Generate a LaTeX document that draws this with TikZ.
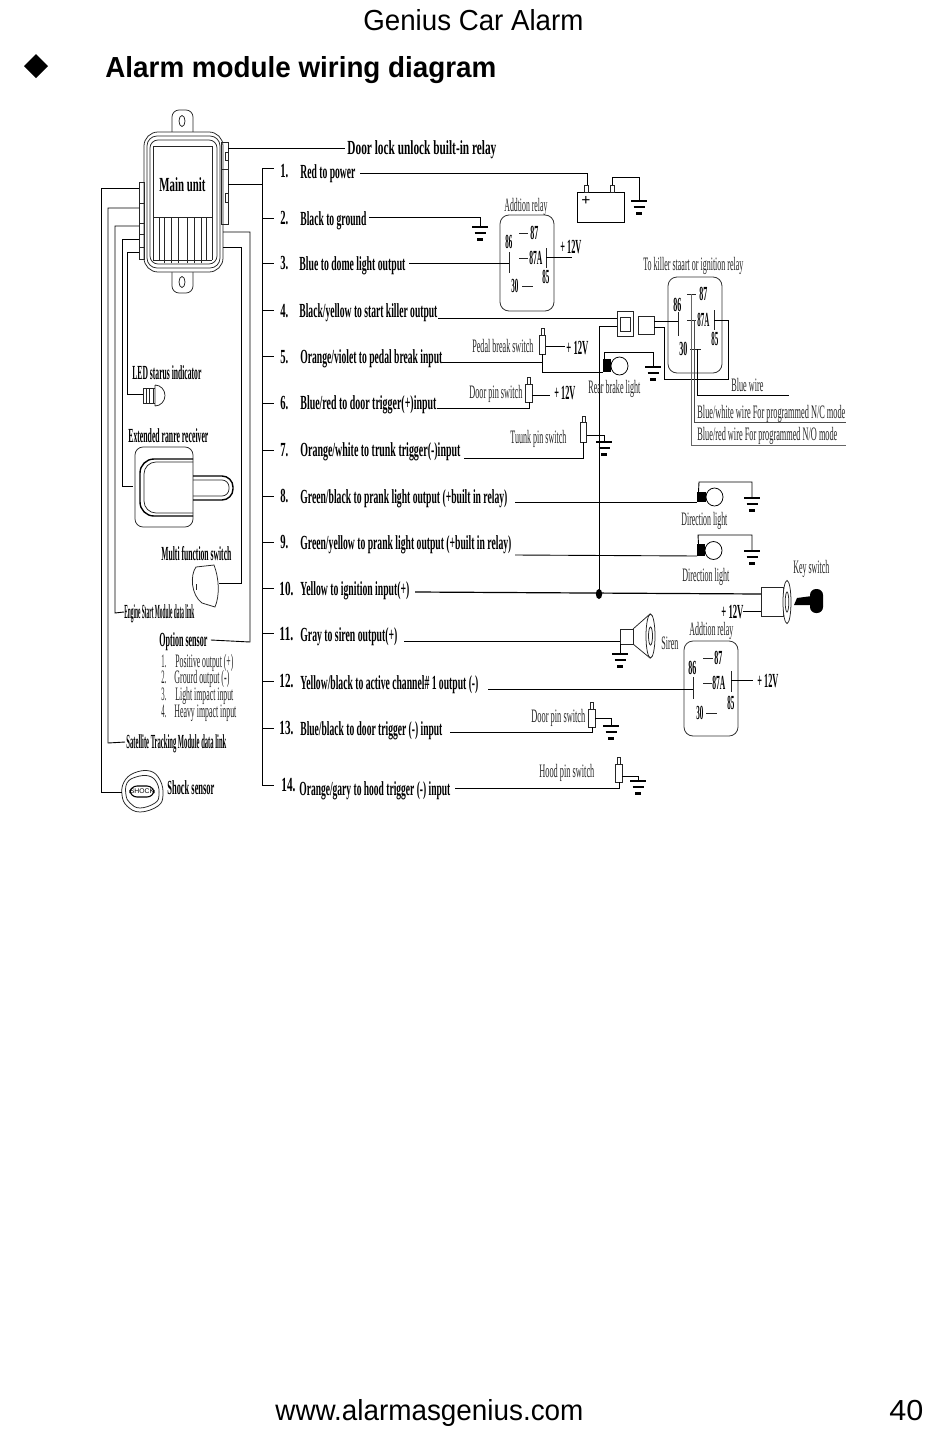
\documentclass[tikz,border=0pt]{standalone}
\usepackage{graphicx}
\usepackage{fontspec}
\setmainfont{Liberation Serif}
\newfontfamily\arialf{Liberation Sans}
\usetikzlibrary{calc}
\tikzset{
  wire/.style={line width=0.45pt,black,line join=miter},
  part/.style={line width=0.38pt,black!85},
  gbar/.style={line width=1.1pt,black},
  lab/.style={inner sep=0pt,anchor=west,text height=6.4pt,text depth=0pt,font=\fontsize{10}{11}\selectfont},
  blab/.style={lab,font=\fontsize{10}{11}\selectfont\bfseries},
  slab/.style={lab,font=\fontsize{9.5}{11}\selectfont,text=black!85},
  head/.style={lab,text height=10pt,font=\arialf\fontsize{14.5}{16}\selectfont},
  bhead/.style={head,font=\arialf\fontsize{14.5}{16}\selectfont\bfseries},
  relaybox/.style={line width=0.4pt,rounded corners=4.5pt,black!80}
}
% text node fitted to a given horizontal span
\newcommand\Tx[6][lab]{%
  \pgfmathsetlengthmacro\txw{(#4-#3)*0.5}%
  \node[#1] (#2) at (#3,#5) {\resizebox{\txw}{\height}{#6}};}
% ground: three bars from the top y
\newcommand\Gnd[3]{%
  \coordinate (#1) at (#2,#3);
  \draw[gbar] ($(#1)+(-8,0)$) -- ($(#1)+(8,0)$);
  \draw[gbar] ($(#1)+(-5.5,6)$) -- ($(#1)+(5.5,6)$);
  \draw[gbar] ($(#1)+(-3,12.5)$) -- ($(#1)+(3,12.5)$);}
% pin switch: name, x centre, pin top, body top, body bottom, side wire y
\newcommand\Sw[6]{%
  \draw[part] (#2-1.6,#3) rectangle (#2+1.6,#4);
  \draw[part,fill=white] (#2-3.2,#4) rectangle (#2+3.2,#5);
  \coordinate (#1-b) at (#2,#5);
  \coordinate (#1-r) at (#2+3.2,#6);}
% bulb: name, xl, xm, xr, square top, square bottom, cy, ry
\newcommand\Bulb[8]{%
  \draw[part,black] (#4/2+#3/2,#7) ellipse [x radius={(#4-#3)/2},y radius=#8];
  \fill (#2,#5) rectangle (#3,#6);
  \coordinate (#1-w) at (#2,#6);
  \coordinate (#1-t) at (#2+1.5,#5);}
\begin{document}
\begin{tikzpicture}[x=0.5pt,y=-0.5pt]
\useasboundingbox (0,0) rectangle (950,1456);
\fill[white] (0,0) rectangle (950,1456);
% page furniture
\Tx[head]{title}{363}{583}{21}{Genius Car Alarm}
\fill (24,66) -- (36,54) -- (48,66) -- (36,78) -- cycle;
\Tx[bhead]{sect}{105}{496}{67}{Alarm module wiring diagram}
\Tx[head]{web}{275}{583}{1410}{www.alarmasgenius.com}
\Tx[head]{page}{889}{923}{1410}{40}

% ---------- main unit
\draw[part,rounded corners=3.5pt] (172,132) -- (172,110) -- (193,110) -- (193,132);
\draw[part] (182,121) ellipse [x radius=3,y radius=5.5];
\draw[part,rounded corners=3.5pt] (172,272) -- (172,293) -- (193,293) -- (193,272);
\draw[part] (182,282) ellipse [x radius=3,y radius=5.5];
\draw[part,fill=white,rounded corners=7pt] (144,132) rectangle (223,272);
\draw[part,rounded corners=5pt] (147,136) rectangle (220,268);
\draw[part,rounded corners=4pt] (150,140) rectangle (217,264);
\draw[part] (153,146) rectangle (212,217);
\draw[part] (153,217) -- (153,260) (159,217) -- (159,260)
 (164,217) -- (164,263) (171,217) -- (171,263)
 (178,217) -- (178,263) (187,217) -- (187,263)
 (194,217) -- (194,263) (201,217) -- (201,263)
 (206,217) -- (206,260) (212,217) -- (212,260)
 (153,260) -- (212,260);
\draw[part] (221,142) rectangle (228,224) (221,169) -- (228,169);
\draw[part] (225,152) rectangle (228,160) (225,193) rectangle (228,202);
\draw[part] (139,182) rectangle (144,259);
\draw[part] (139,203) -- (144,203) (139,223) -- (144,223) (139,234) -- (144,234) (139,247) -- (144,247);
\coordinate (mr1) at (228,148); \coordinate (mr2) at (228,184);
\coordinate (mb1) at (223,232); \coordinate (mb2) at (223,247);
\coordinate (ml1) at (139,188); \coordinate (ml2) at (139,208); \coordinate (ml3) at (139,226);
\coordinate (ml4) at (139,239); \coordinate (ml5) at (139,252);
\Tx[blab]{mainunit}{159}{205}{185}{Main unit}

% ---------- left-hand devices
\Tx[blab]{doorlock}{347}{496}{148}{Door lock unlock built-in relay}
\draw[wire] (mr1) -- ([xshift=-1pt]doorlock.west);
\Tx[blab]{ledl}{132}{201}{373}{LED starus indicator}
\draw[part] (143,388) rectangle (153,403);
\draw[part] (146,388) -- (146,403) (149,388) -- (149,403);
\draw[part] (155,385) -- (155,406) (155,385) arc [start angle=-90,end angle=90,x radius=10,y radius=10.5];
\draw[part] (153,388) -- (155,388) (153,403) -- (155,403);
\coordinate (led) at (143,394);
\Tx[blab]{extl}{128}{208}{436}{Extended ranre receiver}
\draw[part,rounded corners=4pt] (135,447) rectangle (193,527);
\draw[line width=0.7pt,rounded corners=7pt] (193,459) -- (140,459) -- (140,516) -- (193,516);
\draw[part,rounded corners=6pt] (193,462) -- (144,462) -- (144,513) -- (193,513);
\draw[line width=0.7pt,rounded corners=5.5pt] (193,476) -- (233,476) -- (233,500) -- (193,500);
\draw[part,rounded corners=3.5pt] (193,480) -- (229,480) -- (229,496) -- (193,496);
\coordinate (recv) at (133,486);
\Tx[blab]{multil}{161}{231}{554}{Multi function switch}
\draw[part] (196,567) -- (214,565) .. controls (219,578) and (220,595) .. (215,607) -- (202,603) .. controls (191,595) and (190,575) .. (196,567) -- cycle;
\draw[part] (196.5,584) -- (196.5,590);
\coordinate (multi) at (219,583);
\Tx[blab]{engl}{124}{194}{612}{Engine Start Module data link}
\Tx[blab]{optl}{159}{207}{640}{Option sensor}
\Tx[slab]{o1}{161}{166}{661}{1.}
\Tx[slab]{o1t}{175}{233}{661}{Positive output (+)}
\Tx[slab]{o2}{161}{166}{677}{2.}
\Tx[slab]{o2t}{174}{229}{677}{Grourd output (-)}
\Tx[slab]{o3}{161}{166}{694}{3.}
\Tx[slab]{o3t}{175}{233}{694}{Light impact input}
\Tx[slab]{o4}{161}{166}{711}{4.}
\Tx[slab]{o4t}{174}{236}{711}{Heavy impact input}
\Tx[blab]{satl}{126}{226}{742}{Satellite Tracking Module data link}
\Tx[blab]{shockl}{167}{214}{788}{Shock sensor}
\draw[part] plot[smooth cycle,tension=0.7] coordinates {(124,782) (134,773) (150,771) (160,780) (163,795) (158,806) (140,812) (127,806) (122,795)};
\draw[part] plot[smooth cycle,tension=0.7] coordinates {(127,783) (136,777) (149,776) (157,783) (159,795) (155,803) (140,808) (130,803) (126,795)};
\draw[line width=0.55pt,rounded corners=3.5pt] (130,786) rectangle (154,797);
\node[inner sep=0pt] (shocktxt) at (142,791.5) {\arialf\fontsize{3.4}{4}\selectfont SHOCK};
\coordinate (shock) at (122,792);

% left wires
\draw[wire] (ml1) -- (101,188) -- (101,792) -- (shock);
\draw[wire] (ml2) -- (108,208) -- (108,743) -- ([xshift=-0.5pt]satl.west);
\draw[wire] (ml3) -- (115,226) -- (115,613) -- (engl.west);
\draw[wire] (ml4) -- (122,239) -- (122,486) -- (recv);
\draw[wire] (ml5) -- (127,252) -- (127,394) -- (led);
% right wires
\draw[wire] (mb1) -- (250,232) -- (250,642) -- ([xshift=1.5pt]optl.east);
\draw[wire] (mb2) -- (241,247) -- (241,583) -- (multi);
\coordinate (busT) at (262,168); \coordinate (busB) at (262,785);
\draw[wire] (mr2) -- (busT |- mr2);
\draw[wire] (busT) -- (busB);

% ---------- numbered list
\foreach \nn/\ya in {1/168,2/218,3/263,4/310,5/356,6/403,7/450,8/496,9/542,10/588,11/633,12/681,13/728,14/785}
  \draw[wire] (262,\ya) -- (274,\ya);
\Tx[blab]{n1}{280}{288}{171}{1.}   \Tx[blab]{t1}{300}{355}{172}{Red to power}
\Tx[blab]{n2}{280}{288}{218}{2.}   \Tx[blab]{t2}{300}{366}{219}{Black to ground}
\Tx[blab]{n3}{280}{288}{263}{3.}   \Tx[blab]{t3}{299}{405}{264}{Blue to dome light output}
\Tx[blab]{n4}{280}{288}{311}{4.}   \Tx[blab]{t4}{299}{437}{311}{Black/yellow to start killer output}
\Tx[blab]{n5}{280}{288}{357}{5.}   \Tx[blab]{t5}{300}{442}{357}{Orange/violet to pedal break input}
\Tx[blab]{n6}{280}{288}{403}{6.}   \Tx[blab]{t6}{300}{436}{403}{Blue/red to door trigger(+)input}
\Tx[blab]{n7}{280}{288}{450}{7.}   \Tx[blab]{t7}{300}{460}{450}{Orange/white to trunk trigger(-)input}
\Tx[blab]{n8}{280}{288}{496}{8.}   \Tx[blab]{t8}{300}{507}{497}{Green/black to prank light output (+built in relay)}
\Tx[blab]{n9}{280}{288}{542}{9.}   \Tx[blab]{t9}{300}{511}{543}{Green/yellow to prank light output (+built in relay)}
\Tx[blab]{n10}{279}{293}{589}{10.} \Tx[blab]{t10}{300}{409}{589}{Yellow to ignition input(+)}
\Tx[blab]{n11}{279}{293}{634}{11.} \Tx[blab]{t11}{300}{397}{635}{Gray to siren output(+)}
\Tx[blab]{n12}{279}{293}{681}{12.} \Tx[blab]{t12}{300}{478}{683}{Yellow/black to active channel\# 1 output (-)}
\Tx[blab]{n13}{279}{293}{728}{13.} \Tx[blab]{t13}{300}{442}{729}{Blue/black to door trigger (-) input}
\Tx[blab]{n14}{281}{295}{785}{14.} \Tx[blab]{t14}{299}{450}{789}{Orange/gary to hood trigger (-) input}

% ---------- battery
\draw[wire] (577,192) rectangle (624,222);
\draw[part] (584.5,185) rectangle (588.5,192) (610,185) rectangle (614,192);
\coordinate (batp) at (587,185); \coordinate (batn) at (612,185);
\node[inner sep=0pt,font=\bfseries\fontsize{8}{9}\selectfont] (plus) at (586,201) {+};
\Gnd{gbat}{639}{201}
\draw[wire] (360,173) -- (587,173) -- (batp);
\draw[wire] (batn) -- (612,177) -- (639,177) -- (gbat);
% ---------- black to ground
\Gnd{gblk}{480}{227}
\draw[wire] (369,217) -- (480,217) -- (gblk);

% ---------- addition relay 1
\draw[relaybox] (500,215) rectangle (554,311);
\Tx[slab]{ar1}{504}{547}{205}{Addtion relay}
\Tx[blab]{r87a}{530}{538}{233}{87} \draw[part] (519,233) -- (528,233);
\Tx[blab]{r86a}{505}{512}{242}{86}
\draw[part] (509,252) -- (509,273);
\Tx[blab]{r87Aa}{529}{542}{258}{87A} \draw[part] (519,258) -- (528,258);
\draw[part] (546,248) -- (546,268);
\Tx[blab]{r85a}{542}{549}{277}{85}
\Tx[blab]{r30a}{511}{518}{286}{30} \draw[part] (522,286) -- (533,286);
\Tx[blab]{p12a}{560}{581}{247}{+ 12V}
\draw[wire] (546,257) -- (572,257);
\draw[wire] (409,263) -- (509,263);

% ---------- killer relay
\Tx[slab]{ar2}{643}{743}{264}{To killer staart or ignition relay}
\draw[relaybox] (668,277) rectangle (722,373);
\Tx[blab]{r87b}{699}{707}{294}{87} \draw[part] (687,294) -- (696,294);
\Tx[blab]{r86b}{673}{681}{305}{86}
\draw[part] (678,312) -- (678,336);
\Tx[blab]{r87Ab}{697}{709}{320}{87A} \draw[part] (687,320) -- (696,320);
\draw[part] (714,310) -- (714,330);
\Tx[blab]{r85b}{711}{718}{339}{85}
\Tx[blab]{r30b}{679}{687}{349}{30} \draw[part] (690,349) -- (701,349);
% connector blocks
\draw[part] (617,311) rectangle (633,336);
\draw[part] (620,317) rectangle (630,331);
\draw[part] (638,316) rectangle (654,334);
\draw[wire] (438,318) -- (617,318);
\draw[wire] (617,326) -- (599,326) -- (599,594);
\draw[wire] (654,321) -- (678,321);
\draw[wire] (654,327) -- (664,327) -- (664,379) -- (728,379) -- (728,320) -- (714,320);
\draw[wire] (697,349) -- (697,395) -- (789,395);
\draw[wire,black!70] (694,320) -- (694,422) -- (846,422);
\draw[wire,black!60] (691,294) -- (691,445) -- (846,445);
\Tx[slab]{blue}{731}{763}{385}{Blue wire}
\Tx[slab]{bw}{697}{845}{412}{Blue/white wire For programmed N/C mode}
\Tx[slab]{br}{697}{837}{434}{Blue/red wire For programmed N/O mode}

% ---------- pedal switch and brake light
\Tx[slab]{pedl}{472}{533}{346}{Pedal break switch}
\Sw{sw1}{542.5}{328}{335}{354}{346}
\draw[wire] (sw1-r) -- (565,346);
\Tx[blab]{p12b}{566}{588}{348}{+ 12V}
\Bulb{bk}{603}{611}{628}{359}{372}{366}{9}
\draw[wire] (442,362) -- (542.5,362) (sw1-b) -- (542.5,372) -- (bk-w);
\Gnd{gbk}{653}{367}
\draw[wire] (bk-t) -- (604.5,352) -- (653,352) -- (gbk);
\Tx[slab]{rear}{588}{640}{387}{Rear brake light}

% ---------- door pin switch
\Tx[slab]{doorl}{469}{522}{392}{Door pin switch}
\Sw{sw2}{529}{377}{384}{402}{395}
\draw[wire] (sw2-r) -- (550,395);
\Tx[blab]{p12c}{554}{575}{393}{+ 12V}
\draw[wire] (437,408) -- (529,408) -- (sw2-b);

% ---------- trunk pin switch
\Tx[slab]{tunl}{510}{566}{437}{Tuunk pin switch}
\Sw{sw3}{583.5}{416}{422}{442}{435}
\Gnd{gtr}{604}{442}
\draw[wire] (sw3-r) -- (604,435) -- (gtr);
\draw[wire] (464,458) -- (583.5,458) -- (sw3-b);

% ---------- direction lights
\Bulb{d1}{697}{706}{723}{492}{502}{497}{9}
\draw[wire] (515,502) -- (d1-w);
\Gnd{gd1}{752}{498}
\draw[wire] (d1-t) -- (699,482) -- (752,482) -- (gd1);
\Tx[slab]{dl1}{681}{727}{519}{Direction light}
\Bulb{d2}{697}{705}{722}{544}{556}{550.5}{9}
\draw[wire] (515,555) -- (d2-w);
\Gnd{gd2}{752}{551}
\draw[wire] (d2-t) -- (698,535) -- (752,535) -- (gd2);
\Tx[slab]{dl2}{682}{729}{575}{Direction light}

% ---------- ignition and key switch
\draw[wire,line width=0.6pt] (415,592) -- (761,594);
\fill (599,594) ellipse [x radius=3.2,y radius=5];
\draw[part] (761,587) rectangle (783,616);
\draw[part,fill=white] (787,602) ellipse [x radius=4,y radius=21.5];
\draw[part] (787,602) ellipse [x radius=1.8,y radius=10];
\draw[wire] (743,611) -- (761,611);
\Tx[blab]{p12d}{721}{743}{612}{+ 12V}
\fill (794,605) -- (797,598) -- (812,596) -- (812,605) -- cycle;
\fill[rounded corners=3pt] (810,589) rectangle (823,613);
\Tx[slab]{keyl}{793}{829}{567}{Key switch}

% ---------- siren
\draw[part] (620,629) rectangle (633,644);
\draw[part] (633,629) -- (650,614) (633,644) -- (650,658);
\draw[part,fill=white] (650.5,636) ellipse [x radius=4.5,y radius=22];
\draw[part] (650.5,636) ellipse [x radius=2,y radius=9];
\draw[wire] (404,641) -- (620,641);
\Gnd{gsi}{620}{654}
\draw[wire] (620,644) -- (gsi);
\Tx[slab]{sirl}{661}{678}{643}{Siren}

% ---------- addition relay 2
\Tx[slab]{ar3}{689}{733}{629}{Addtion relay}
\draw[relaybox] (684,641) rectangle (738,736);
\Tx[blab]{r87c}{714}{722}{658}{87} \draw[part] (703,658) -- (713,658);
\Tx[blab]{r86c}{688}{696}{668}{86}
\draw[part] (693,677) -- (693,699);
\Tx[blab]{r87Ac}{712}{725}{683}{87A} \draw[part] (703,683) -- (712,683);
\draw[part] (731,671) -- (731,692);
\Tx[blab]{r85c}{727}{734}{703}{85}
\Tx[blab]{r30c}{696}{703}{713}{30} \draw[part] (706,713) -- (717,713);
\draw[wire] (731,680) -- (753,680);
\Tx[blab]{p12e}{757}{778}{681}{+ 12V}
\draw[wire] (488,689) -- (693,689);

% ---------- door and hood pins
\Tx[slab]{door2}{531}{585}{716}{Door pin switch}
\Sw{sw4}{592}{702}{709}{727}{718}
\Gnd{gdp}{611}{726}
\draw[wire] (sw4-r) -- (611,718) -- (gdp);
\draw[wire] (450,732) -- (592,732) -- (sw4-b);
\Tx[slab]{hood}{539}{594}{771}{Hood pin switch}
\Sw{sw5}{619}{757}{764}{782}{776}
\Gnd{gho}{638}{781}
\draw[wire] (sw5-r) -- (638,776) -- (gho);
\draw[wire] (455,788) -- (619,788) -- (sw5-b);
\end{tikzpicture}
\end{document}
